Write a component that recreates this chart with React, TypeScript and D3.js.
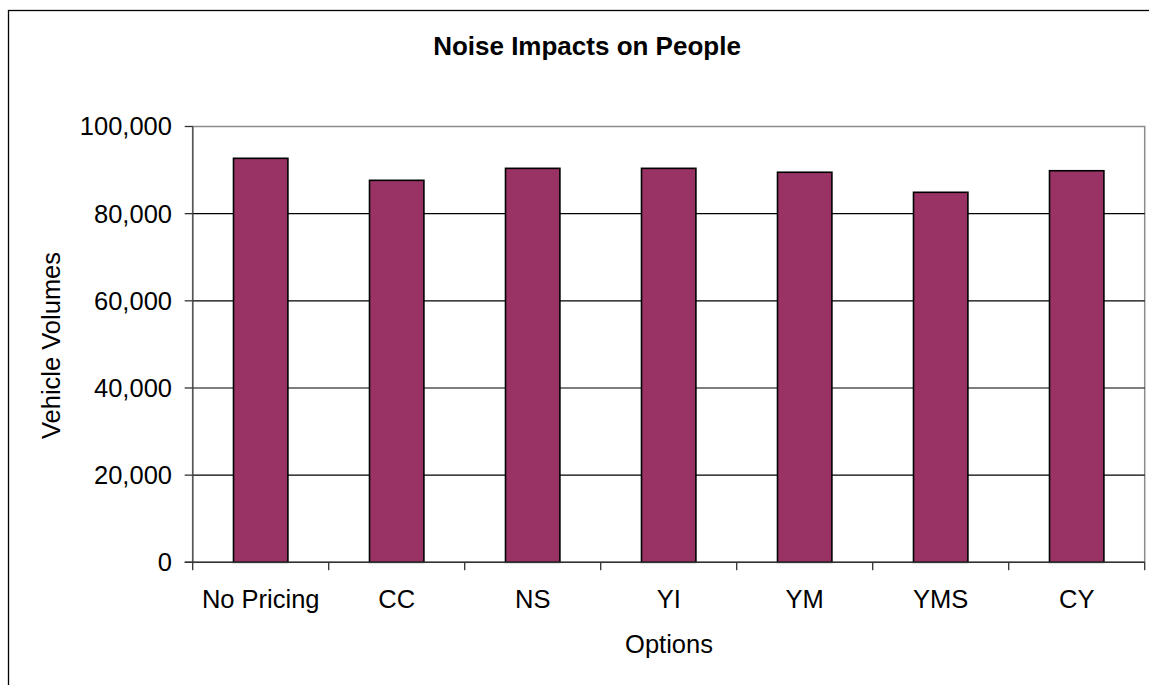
import React from "react";
import * as d3 from "d3";

const categories = ["No Pricing", "CC", "NS", "YI", "YM", "YMS", "CY"];
const values = [92700, 87650, 90400, 90400, 89500, 84900, 89850];
const yTicks = [0, 20000, 40000, 60000, 80000, 100000];
const title = "Noise Impacts on People";
const xTitle = "Options";
const yTitle = "Vehicle Volumes";

export default function App() {
  const W = 1149;
  const H = 685;
  const left = 192.7;
  const right = 1144.7;
  const top = 126.5;
  const bottom = 562.3;
  const font = "'Liberation Sans', Arial, sans-serif";

  const x = d3.scaleBand<string>().domain(categories).range([left, right]).padding(0);
  const y = d3.scaleLinear().domain([0, 100000]).range([bottom, top]);
  const barW = x.bandwidth() * 0.4;
  const fmt = d3.format(",");
  const bounds = [...categories.map((c) => x(c) as number), right];

  return (
    <svg
      width={W}
      height={H}
      style={{ position: "absolute", left: 0, top: 0, background: "#fff" }}
      fontFamily={font}
    >
      <rect x={8.5} y={10.5} width={1160} height={700} fill="#fff" stroke="#000" strokeWidth={1.3} />
      <text x={587} y={55} textAnchor="middle" fontSize={26} fontWeight="bold" fill="#000">
        {title}
      </text>
      {/* plot area border */}
      <rect x={left} y={top} width={right - left} height={bottom - top} fill="#fff" stroke="#8c8c8c" strokeWidth={1.5} />
      {/* gridlines */}
      {yTicks.filter((t) => t > 0 && t < 100000).map((t) => (
        <line key={t} x1={left} x2={right} y1={y(t)} y2={y(t)} stroke="#000" strokeWidth={1.2} />
      ))}
      {/* bars */}
      {categories.map((c, i) => {
        const bx = (x(c) as number) + (x.bandwidth() - barW) / 2;
        return (
          <rect
            key={c}
            x={bx}
            y={y(values[i])}
            width={barW}
            height={y(0) - y(values[i])}
            fill="#993366"
            stroke="#000"
            strokeWidth={1.6}
          />
        );
      })}
      {/* axes */}
      <line x1={left} x2={left} y1={top} y2={bottom} stroke="#555" strokeWidth={1.5} />
      <line x1={left - 8} x2={right} y1={bottom} y2={bottom} stroke="#333" strokeWidth={1.5} />
      {yTicks.map((t) => (
        <g key={t}>
          <line x1={left - 8} x2={left} y1={y(t)} y2={y(t)} stroke="#333" strokeWidth={1.3} />
          <text x={172} y={y(t)} dy="0.35em" textAnchor="end" fontSize={25.5} fill="#000">
            {fmt(t)}
          </text>
        </g>
      ))}
      {bounds.map((b, i) => (
        <line key={i} x1={b} x2={b} y1={bottom} y2={bottom + 8} stroke="#333" strokeWidth={1.3} />
      ))}
      {categories.map((c) => (
        <text
          key={c}
          x={(x(c) as number) + x.bandwidth() / 2}
          y={608.3}
          textAnchor="middle"
          fontSize={25.5}
          fill="#000"
        >
          {c}
        </text>
      ))}
      <text x={669} y={653.3} textAnchor="middle" fontSize={25.5} fill="#000">
        {xTitle}
      </text>
      <text
        transform={`translate(60,345.5) rotate(-90)`}
        textAnchor="middle"
        fontSize={25.5}
        fill="#000"
      >
        {yTitle}
      </text>
    </svg>
  );
}
